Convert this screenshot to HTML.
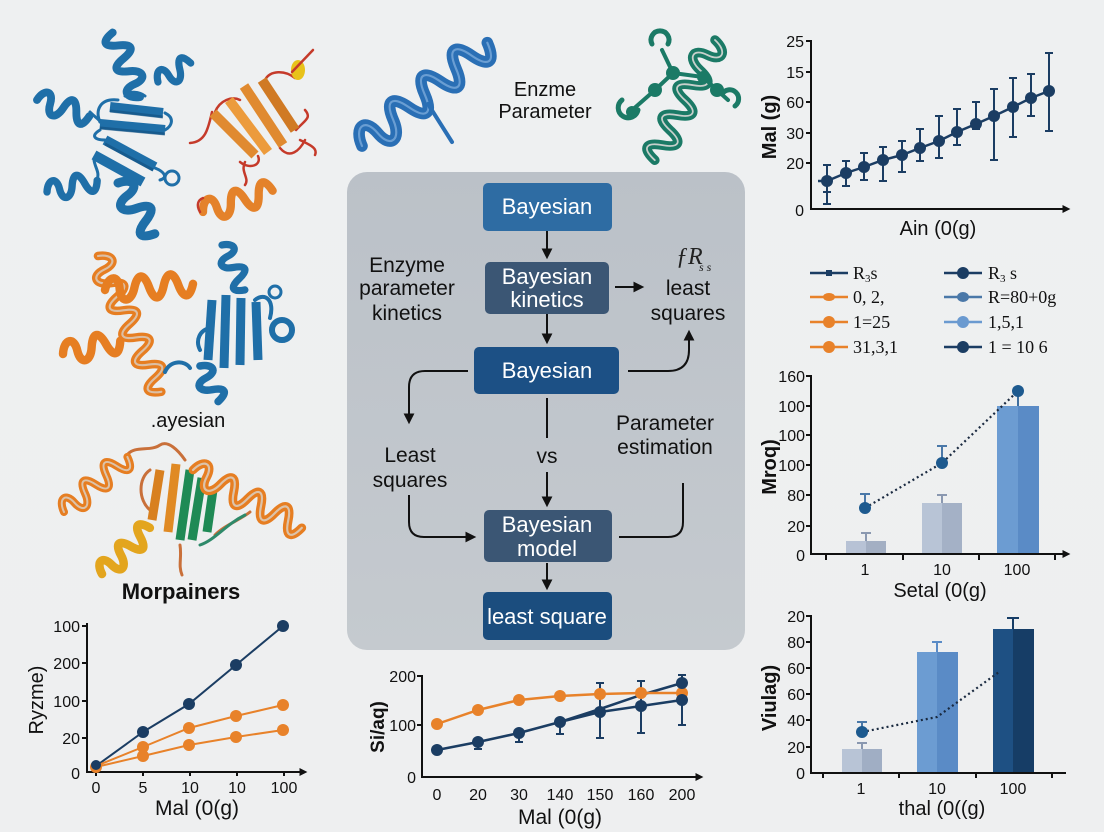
<!DOCTYPE html>
<html><head><meta charset="utf-8">
<style>
html,body{margin:0;padding:0;background:#eeeff0;}
svg{display:block;}
</style></head>
<body>
<svg width="1104" height="832" viewBox="0 0 1104 832" xmlns="http://www.w3.org/2000/svg" font-family="'Liberation Sans', sans-serif">
<defs>
  <linearGradient id="bg" x1="0" y1="0" x2="0" y2="1">
    <stop offset="0" stop-color="#eef0f1"/><stop offset="1" stop-color="#eeeff0"/>
  </linearGradient>
  <linearGradient id="panel" x1="0" y1="0" x2="0" y2="1">
    <stop offset="0" stop-color="#bbc1c8"/><stop offset="1" stop-color="#c5cacf"/>
  </linearGradient>
  <marker id="ah" viewBox="0 0 10 10" refX="7" refY="5" markerWidth="5.5" markerHeight="5.5" orient="auto">
    <path d="M0,0 L10,5 L0,10 z" fill="#111"/>
  </marker>
  <marker id="ahs" viewBox="0 0 10 10" refX="7" refY="5" markerWidth="4" markerHeight="4" orient="auto">
    <path d="M0,0 L10,5 L0,10 z" fill="#111"/>
  </marker>
  <path id="k3" fill="none" stroke-linecap="round" d="M0,0 c4,-14 14,-14 14,0 s10,14 14,0 s10,-14 14,0"/>
  <path id="k4" fill="none" stroke-linecap="round" d="M0,0 c4,-14 14,-14 14,0 s10,14 14,0 s10,-14 14,0 s10,14 14,0"/>
  <path id="k5" fill="none" stroke-linecap="round" d="M0,0 c4,-14 14,-14 14,0 s10,14 14,0 s10,-14 14,0 s10,14 14,0 s10,-14 14,0"/>
  <path id="k6" fill="none" stroke-linecap="round" d="M0,0 c4,-14 14,-14 14,0 s10,14 14,0 s10,-14 14,0 s10,14 14,0 s10,-14 14,0 s10,14 14,0"/>
  <path id="k8" fill="none" stroke-linecap="round" d="M0,0 c4,-14 14,-14 14,0 s10,14 14,0 s10,-14 14,0 s10,14 14,0 s10,-14 14,0 s10,14 14,0 s10,-14 14,0 s10,14 14,0"/>
  <path id="k10" fill="none" stroke-linecap="round" d="M0,0 c4,-14 14,-14 14,0 s10,14 14,0 s10,-14 14,0 s10,14 14,0 s10,-14 14,0 s10,14 14,0 s10,-14 14,0 s10,14 14,0 s10,-14 14,0 s10,14 14,0"/>
</defs>
<rect width="1104" height="832" fill="url(#bg)"/>

<!-- ============ PROTEIN 1 (blue, top-left) ============ -->
<g fill="none" stroke-linecap="round">
  <path d="M118,100 C100,98 95,110 100,122 M165,113 C175,118 172,126 165,130 M100,130 C90,136 95,140 105,140 M155,168 C165,172 168,178 160,180" stroke="#1f6fa8" stroke-width="3"/>
  <circle cx="172" cy="178" r="7" stroke="#1f6fa8" stroke-width="3"/>
  <path d="M125,96 C128,90 140,92 145,96 M90,112 C96,118 100,120 100,122 M97,180 C100,172 95,168 94,160" stroke="#1f6fa8" stroke-width="3"/>
  <g stroke="#1f6fa8" stroke-width="10" stroke-linecap="butt">
    <line x1="110" y1="107" x2="163" y2="113"/>
    <line x1="100" y1="124" x2="165" y2="130"/>
    <line x1="105" y1="140" x2="155" y2="167"/>
    <line x1="94" y1="155" x2="143" y2="182"/>
  </g>
  <g stroke="#134f7e" stroke-width="3" stroke-linecap="butt" opacity="0.6">
    <line x1="110" y1="111" x2="163" y2="117"/>
    <line x1="100" y1="128" x2="165" y2="134"/>
    <line x1="105" y1="144" x2="153" y2="170"/>
  </g>
  <use href="#k5" transform="translate(140,97) rotate(-113)" stroke="#1f6fa8" stroke-width="8"/>
  <use href="#k3" transform="translate(158,82) rotate(-30) scale(0.9)" stroke="#1f6fa8" stroke-width="8"/>
  <use href="#k4" transform="translate(37,100) rotate(17) scale(0.98)" stroke="#1f6fa8" stroke-width="8"/>
  <use href="#k4" transform="translate(47,192) rotate(-13) scale(0.92)" stroke="#1f6fa8" stroke-width="8"/>
  <use href="#k4" transform="translate(118,183) rotate(54) scale(1.12)" stroke="#1f6fa8" stroke-width="8"/>
</g>

<!-- ============ PROTEIN 2 (orange, top) ============ -->
<g fill="none" stroke-linecap="round">
  <path d="M190,143 C205,142 208,130 212,112 M215,112 C220,100 232,96 240,100 M258,156 C262,165 250,170 240,162 M280,148 C290,160 300,150 305,140 M296,130 C305,120 312,118 305,110 M265,80 C270,70 285,70 295,78 M245,162 C240,172 250,178 245,185 M300,140 C310,145 318,148 315,155" stroke="#c53a2a" stroke-width="2.5"/>
  <g stroke-width="10" stroke-linecap="butt">
    <line x1="213" y1="113" x2="255" y2="155" stroke="#e08a30"/>
    <line x1="229" y1="100" x2="268" y2="152" stroke="#ec9b3c"/>
    <line x1="244" y1="86" x2="283" y2="145" stroke="#e08a30"/>
    <line x1="262" y1="80" x2="295" y2="130" stroke="#d07a24"/>
  </g>
  <use href="#k5" transform="translate(203,212) rotate(-17) scale(1.04)" stroke="#e4822a" stroke-width="8"/>
  <path d="M200,212 C196,205 198,200 203,198" stroke="#c53a2a" stroke-width="2.5"/>
  <ellipse cx="298" cy="70" rx="7" ry="10" fill="#e8c21a" stroke="none"/>
  <line x1="292" y1="72" x2="313" y2="50" stroke="#c53a2a" stroke-width="2.5"/>
</g>

<!-- ============ PROTEIN 3 (orange + blue, middle-left) ============ -->
<g fill="none" stroke-linecap="round">
  <use href="#k10" transform="translate(98,256) rotate(65) scale(1.07)" stroke="#e67e22" stroke-width="8"/>
  <use href="#k10" transform="translate(98,256) rotate(65) scale(1.07)" stroke="#dcbfa4" stroke-width="2"/>
  <use href="#k4" transform="translate(63,354) rotate(-13) scale(1.05)" stroke="#e67e22" stroke-width="8"/>
  <use href="#k6" transform="translate(105,290) rotate(-4) scale(1.05)" stroke="#e67e22" stroke-width="8"/>
  <path d="M165,372 C170,360 185,360 190,368 M200,350 C195,340 200,330 210,328 M255,300 C265,292 275,300 270,318" stroke="#1f6fa8" stroke-width="4"/>
  <circle cx="282" cy="330" r="10" stroke="#1f6fa8" stroke-width="6"/>
  <circle cx="275" cy="292" r="6" stroke="#1f6fa8" stroke-width="3"/>
  <g stroke="#1f6fa8" stroke-width="9" stroke-linecap="butt">
    <line x1="212" y1="300" x2="208" y2="360"/>
    <line x1="226" y1="295" x2="224" y2="368"/>
    <line x1="241" y1="298" x2="240" y2="365"/>
    <line x1="256" y1="302" x2="258" y2="360"/>
  </g>
  <use href="#k4" transform="translate(222,245) rotate(63) scale(0.9)" stroke="#1f6fa8" stroke-width="8"/>
  <use href="#k3" transform="translate(200,366) rotate(63) scale(0.95)" stroke="#1f6fa8" stroke-width="8"/>
</g>
<text x="188" y="427" font-size="20" text-anchor="middle" fill="#111">.ayesian</text>

<!-- ============ PROTEIN 4 (orange/green, lower-left) ============ -->
<g fill="none" stroke-linecap="round">
  <path d="M127,455 C135,445 150,452 160,445 C168,440 178,450 185,460 M180,545 C182,558 178,565 182,575 M215,535 C225,525 240,520 250,512 M150,470 C138,478 138,500 150,510" stroke="#c9703a" stroke-width="3"/>
  <path d="M200,545 C215,540 225,525 245,515" stroke="#2e8a6a" stroke-width="3"/>
  <g stroke-width="9" stroke-linecap="butt">
    <line x1="160" y1="470" x2="152" y2="520" stroke="#d8801f"/>
    <line x1="176" y1="464" x2="168" y2="532" stroke="#e08a24"/>
    <line x1="190" y1="470" x2="180" y2="540" stroke="#1f8a55"/>
    <line x1="202" y1="478" x2="192" y2="540" stroke="#1f8a55"/>
    <line x1="213" y1="490" x2="207" y2="532" stroke="#1f8a55"/>
  </g>
  <use href="#k6" transform="translate(64,512) rotate(-41)" stroke="#e67e22" stroke-width="8"/>
  <use href="#k6" transform="translate(64,512) rotate(-41)" stroke="#dcc3aa" stroke-width="2"/>
  <use href="#k8" transform="translate(193,470) rotate(28) scale(1.1)" stroke="#e67e22" stroke-width="8"/>
  <use href="#k8" transform="translate(193,470) rotate(28) scale(1.1)" stroke="#dcc3aa" stroke-width="2"/>
  <use href="#k5" transform="translate(102,574) rotate(-44) scale(0.95)" stroke="#e3a51e" stroke-width="9"/>
</g>
<text x="181" y="599" font-size="22" font-weight="bold" text-anchor="middle" fill="#111">Morpainers</text>

<!-- ============ TOP-MIDDLE proteins ============ -->
<g fill="none" stroke-linecap="round">
  <use href="#k8" transform="translate(362,146) rotate(-39.5) scale(1.45)" stroke="#2a6fb5" stroke-width="8"/>
  <use href="#k8" transform="translate(362,146) rotate(-39.5) scale(1.45)" stroke="#6a9ed3" stroke-width="1.5"/>
  <line x1="428" y1="104" x2="452" y2="142" stroke="#2a6fb5" stroke-width="4"/>
</g>
<text x="545" y="96" font-size="20" text-anchor="middle" fill="#111">Enzme</text>
<text x="545" y="118" font-size="20" text-anchor="middle" fill="#111">Parameter</text>
<g fill="none" stroke-linecap="round">
  <use href="#k8" transform="translate(715,40) rotate(116.6) scale(1.2)" stroke="#1b7a66" stroke-width="8"/>
  <use href="#k8" transform="translate(715,40) rotate(116.6) scale(1.2)" stroke="#c8d0cc" stroke-width="1.5"/>
  <path d="M630,112 L655,90 L673,73 L703,77 L717,90 L728,100" stroke="#1b7a66" stroke-width="4"/>
  <line x1="673" y1="73" x2="662" y2="50" stroke="#1b7a66" stroke-width="4"/>
  <path d="M622,100 A10,10 0 1,0 638,110" stroke="#1b7a66" stroke-width="5"/>
  <path d="M652,44 A9,9 0 1,1 668,44" stroke="#1b7a66" stroke-width="5"/>
  <path d="M722,94 A9,9 0 1,1 735,106" stroke="#1b7a66" stroke-width="5"/>
</g>
<g fill="#1b7a66">
  <circle cx="673" cy="73" r="7"/><circle cx="655" cy="90" r="7"/><circle cx="703" cy="77" r="6"/><circle cx="717" cy="90" r="7"/><circle cx="632" cy="112" r="6"/>
</g>

<!-- ============ FLOWCHART PANEL ============ -->
<rect x="347" y="172" width="398" height="478" rx="20" fill="url(#panel)"/>
<g font-size="22" fill="#fff" text-anchor="middle">
  <rect x="483" y="183" width="129" height="48" rx="5" fill="#2e6ca3"/>
  <text x="547" y="214">Bayesian</text>
  <rect x="485" y="262" width="124" height="52" rx="5" fill="#3b5674"/>
  <text x="547" y="284">Bayesian</text>
  <text x="547" y="307">kinetics</text>
  <rect x="474" y="347" width="145" height="47" rx="5" fill="#1c5085"/>
  <text x="547" y="378">Bayesian</text>
  <rect x="484" y="510" width="128" height="52" rx="5" fill="#3b5674"/>
  <text x="547" y="532">Bayesian</text>
  <text x="547" y="556">model</text>
  <rect x="483" y="592" width="129" height="48" rx="5" fill="#1b4d7e"/>
  <text x="547" y="624">least square</text>
</g>
<g font-size="21" fill="#111" text-anchor="middle">
  <text x="407" y="272">Enzyme</text>
  <text x="407" y="295">parameter</text>
  <text x="407" y="320">kinetics</text>
  <text x="688" y="295">least</text>
  <text x="688" y="320">squares</text>
  <text x="410" y="462">Least</text>
  <text x="410" y="487">squares</text>
  <text x="547" y="463">vs</text>
  <text x="665" y="430">Parameter</text>
  <text x="665" y="454">estimation</text>
</g>
<text x="676" y="264" font-family="'Liberation Serif', serif" font-style="italic" font-size="24" fill="#222">ƒR</text>
<text x="699" y="271" font-family="'Liberation Serif', serif" font-style="italic" font-size="12" fill="#222">s s</text>
<g stroke="#111" stroke-width="2" fill="none">
  <line x1="547" y1="231" x2="547" y2="256" marker-end="url(#ah)"/>
  <line x1="547" y1="314" x2="547" y2="341" marker-end="url(#ah)"/>
  <line x1="615" y1="287" x2="641" y2="287" marker-end="url(#ah)"/>
  <path d="M628,371 L668,371 Q689,371 689,350 L689,333" marker-end="url(#ah)"/>
  <path d="M468,371 L425,371 Q409,371 409,387 L409,421" marker-end="url(#ah)"/>
  <path d="M409,495 L409,522 Q409,537 424,537 L473,537" marker-end="url(#ah)"/>
  <line x1="547" y1="398" x2="547" y2="438"/>
  <line x1="547" y1="472" x2="547" y2="504" marker-end="url(#ah)"/>
  <path d="M683,483 L683,522 Q683,537 668,537 L619,537"/>
  <line x1="547" y1="563" x2="547" y2="587" marker-end="url(#ah)"/>
</g>

<!-- ============ TOP-RIGHT LINE CHART ============ -->
<g stroke="#111" stroke-width="2" fill="none">
  <line x1="811" y1="40" x2="811" y2="210"/>
  <line x1="810" y1="209" x2="1068" y2="209" marker-end="url(#ahs)"/>
  <line x1="806" y1="41" x2="811" y2="41"/>
  <line x1="806" y1="72" x2="811" y2="72"/>
  <line x1="806" y1="102" x2="811" y2="102"/>
  <line x1="806" y1="133" x2="811" y2="133"/>
  <line x1="806" y1="163" x2="811" y2="163"/>
</g>
<g font-size="16" fill="#111" text-anchor="end">
  <text x="804" y="47">25</text>
  <text x="804" y="78">15</text>
  <text x="804" y="108">60</text>
  <text x="804" y="139">30</text>
  <text x="804" y="169">20</text>
  <text x="804" y="216">0</text>
</g>
<text transform="translate(776,127) rotate(-90)" font-size="20" font-weight="bold" text-anchor="middle" fill="#111">Mal (g)</text>
<text x="938" y="235" font-size="20" text-anchor="middle" fill="#111">Ain (0(g)</text>
<g stroke="#1b3d63" stroke-width="2" fill="none">
  <polyline points="818,181 827,181 846,173 864,167 883,160 902,155 920,148 939,141 957,132 976,124 994,116 1013,107 1031,98 1049,91" stroke-width="2.5"/>
  <path d="M827,165V204 M823,165H831 M823,192H831 M823,204H831
           M846,161V186 M842,161H850 M842,186H850
           M864,153V180 M860,153H868 M860,180H868
           M883,147V181 M879,147H887 M879,181H887
           M902,141V172 M898,141H906 M898,172H906
           M920,129V161 M916,129H924 M916,161H924
           M939,116V158 M935,116H943 M935,158H943
           M957,109V145 M953,109H961 M953,145H961
           M976,102V129 M972,102H980 M972,129H980
           M994,89V160 M990,89H998 M990,160H998
           M1013,78V137 M1009,78H1017 M1009,137H1017
           M1031,74V116 M1027,74H1035 M1027,116H1035
           M1049,53V131 M1045,53H1053 M1045,131H1053"/>
</g>
<g fill="#1b3d63">
  <circle cx="827" cy="181" r="6"/><circle cx="846" cy="173" r="6"/><circle cx="864" cy="167" r="6"/><circle cx="883" cy="160" r="6"/><circle cx="902" cy="155" r="6"/><circle cx="920" cy="148" r="6"/><circle cx="939" cy="141" r="6"/><circle cx="957" cy="132" r="6"/><circle cx="976" cy="124" r="6"/><circle cx="994" cy="116" r="6"/><circle cx="1013" cy="107" r="6"/><circle cx="1031" cy="98" r="6"/><circle cx="1049" cy="91" r="6"/>
</g>

<!-- ============ LEGEND ============ -->
<g stroke-width="2.5">
  <line x1="810" y1="273" x2="848" y2="273" stroke="#1b3d63"/><rect x="826" y="270" width="6" height="6" fill="#1b3d63"/>
  <line x1="810" y1="297" x2="848" y2="297" stroke="#e8822a"/><ellipse cx="829" cy="297" rx="6" ry="4" fill="#e8822a"/>
  <line x1="810" y1="322" x2="848" y2="322" stroke="#e8822a"/><circle cx="829" cy="322" r="6" fill="#e8822a"/>
  <line x1="810" y1="347" x2="848" y2="347" stroke="#e8822a"/><circle cx="829" cy="347" r="6" fill="#e8822a"/>
  <line x1="944" y1="273" x2="982" y2="273" stroke="#1b3d63"/><circle cx="963" cy="273" r="6" fill="#1b3d63"/>
  <line x1="944" y1="297" x2="982" y2="297" stroke="#4a78a8"/><ellipse cx="963" cy="297" rx="6" ry="5" fill="#4a78a8"/>
  <line x1="944" y1="322" x2="982" y2="322" stroke="#6a9ad0"/><circle cx="963" cy="322" r="6" fill="#6a9ad0"/>
  <line x1="944" y1="347" x2="982" y2="347" stroke="#1b3d63"/><circle cx="963" cy="347" r="6" fill="#1b3d63"/>
</g>
<g font-family="'Liberation Serif', serif" font-size="18" fill="#111">
  <text x="853" y="279">R<tspan font-size="11" dy="3">3</tspan><tspan dy="-3">s</tspan></text>
  <text x="853" y="303">0, 2,</text>
  <text x="853" y="328">1=25</text>
  <text x="853" y="353">31,3,1</text>
  <text x="988" y="279">R<tspan font-size="11" dy="3">3</tspan><tspan dy="-3"> s</tspan></text>
  <text x="988" y="303">R=80+0g</text>
  <text x="988" y="328">1,5,1</text>
  <text x="988" y="353">1 = 10 6</text>
</g>

<!-- ============ MIDDLE-RIGHT BAR CHART ============ -->
<rect x="846" y="541" width="20" height="13" fill="#b7c2d5"/><rect x="866" y="541" width="20" height="13" fill="#a3afc3"/>
<rect x="922" y="503" width="20" height="51" fill="#b8c4d6"/><rect x="942" y="503" width="20" height="51" fill="#a4b1c6"/>
<rect x="997" y="406" width="21" height="148" fill="#6c9cd2"/><rect x="1018" y="406" width="21" height="148" fill="#5a8bc6"/>
<g stroke="#8a98b0" stroke-width="2">
  <path d="M866,541V533 M861,533H871 M942,503V495 M937,495H947"/>
</g>
<path d="M1018,406V396" stroke="#3f6f9f" stroke-width="2"/>
<g stroke="#111" stroke-width="2" fill="none">
  <line x1="811" y1="375" x2="811" y2="555"/>
  <line x1="810" y1="554" x2="1068" y2="554" marker-end="url(#ahs)"/>
  <path d="M826,554V560 M903,554V560 M979,554V560 M1055,554V560"/>
  <path d="M806,376H811 M806,406H811 M806,435H811 M806,465H811 M806,495H811 M806,526H811"/>
</g>
<g font-size="16" fill="#111" text-anchor="end">
  <text x="805" y="382">160</text>
  <text x="805" y="412">100</text>
  <text x="805" y="441">100</text>
  <text x="805" y="471">100</text>
  <text x="805" y="501">80</text>
  <text x="805" y="532">20</text>
  <text x="805" y="561">0</text>
</g>
<g font-size="16" fill="#111" text-anchor="middle">
  <text x="865" y="575">1</text>
  <text x="942" y="575">10</text>
  <text x="1017" y="575">100</text>
</g>
<text x="940" y="597" font-size="20" text-anchor="middle" fill="#111">Setal (0(g)</text>
<text transform="translate(776,467) rotate(-90)" font-size="20" font-weight="bold" text-anchor="middle" fill="#111">Mroq)</text>
<polyline points="865,508 942,463 1018,391" fill="none" stroke="#1a2a40" stroke-width="2.2" stroke-dasharray="2,3"/>
<g stroke="#4a78a8" stroke-width="2"><path d="M865,508V494 M860,494H870 M942,463V446 M937,446H947"/></g>
<g fill="#1d5a8f"><circle cx="865" cy="508" r="6"/><circle cx="942" cy="463" r="6"/><circle cx="1018" cy="391" r="6"/></g>

<!-- ============ BOTTOM-RIGHT BAR CHART ============ -->
<rect x="842" y="749" width="20" height="24" fill="#b8c4d6"/><rect x="862" y="749" width="20" height="24" fill="#a0aec4"/>
<rect x="917" y="652" width="20" height="121" fill="#6c9cd2"/><rect x="937" y="652" width="21" height="121" fill="#5a8bc6"/>
<rect x="993" y="629" width="20" height="144" fill="#1e5083"/><rect x="1013" y="629" width="21" height="144" fill="#163d66"/>
<g stroke-width="2">
  <path d="M862,749V743 M857,743H867" stroke="#8a98b0"/>
  <path d="M937,652V642 M932,642H942" stroke="#5a8bc6"/>
  <path d="M1013,629V618 M1007,618H1019" stroke="#163d66"/>
</g>
<g stroke="#111" stroke-width="2" fill="none">
  <line x1="811" y1="615" x2="811" y2="774"/>
  <line x1="810" y1="773" x2="1066" y2="773"/>
  <path d="M823,773V778 M899,773V778 M976,773V778 M1052,773V778"/>
  <path d="M806,616H811 M806,642H811 M806,668H811 M806,694H811 M806,720H811 M806,747H811"/>
</g>
<g font-size="16" fill="#111" text-anchor="end">
  <text x="805" y="622">20</text>
  <text x="805" y="648">80</text>
  <text x="805" y="674">60</text>
  <text x="805" y="700">60</text>
  <text x="805" y="726">40</text>
  <text x="805" y="753">20</text>
  <text x="805" y="779">0</text>
</g>
<g font-size="16" fill="#111" text-anchor="middle">
  <text x="861" y="794">1</text>
  <text x="937" y="794">10</text>
  <text x="1013" y="794">100</text>
</g>
<text x="942" y="815" font-size="20" text-anchor="middle" fill="#111">thal (0((g)</text>
<text transform="translate(776,698) rotate(-90)" font-size="20" font-weight="bold" text-anchor="middle" fill="#111">Viulag)</text>
<polyline points="862,732 937,717 999,672" fill="none" stroke="#1a2a40" stroke-width="2.2" stroke-dasharray="2,3"/>
<path d="M862,732V722 M857,722H867" stroke="#4a78a8" stroke-width="2"/>
<circle cx="862" cy="732" r="6" fill="#1d5a8f"/>

<!-- ============ BOTTOM-LEFT LINE CHART ============ -->
<g stroke="#111" stroke-width="2" fill="none">
  <line x1="87" y1="623" x2="87" y2="773"/>
  <line x1="86" y1="772" x2="305" y2="772" marker-end="url(#ahs)"/>
  <path d="M82,626H87 M82,663H87 M82,701H87 M82,738H87"/>
  <path d="M96,772V776 M143,772V776 M190,772V776 M237,772V776 M284,772V776"/>
</g>
<g font-size="16" fill="#111" text-anchor="end">
  <text x="80" y="632">100</text>
  <text x="80" y="669">200</text>
  <text x="80" y="707">100</text>
  <text x="80" y="744">20</text>
  <text x="80" y="779">0</text>
</g>
<g font-size="16" fill="#111" text-anchor="middle">
  <text x="96" y="793">0</text>
  <text x="143" y="793">5</text>
  <text x="190" y="793">10</text>
  <text x="237" y="793">10</text>
  <text x="284" y="793">100</text>
</g>
<text x="197" y="815" font-size="21" text-anchor="middle" fill="#111">Mal (0(g)</text>
<text transform="translate(43,700) rotate(-90)" font-size="20" text-anchor="middle" fill="#111">Ryzme)</text>
<g fill="none" stroke-width="2">
  <polyline points="96,766 143,732 189,704 236,665 283,626" stroke="#1b3d63"/>
  <polyline points="96,766 143,747 189,728 236,716 283,705" stroke="#e8822a"/>
  <polyline points="96,767 143,756 189,745 236,737 283,730" stroke="#e8822a"/>
</g>
<g fill="#e8822a">
  <circle cx="96" cy="767" r="6"/><circle cx="143" cy="747" r="6"/><circle cx="189" cy="728" r="6"/><circle cx="236" cy="716" r="6"/><circle cx="283" cy="705" r="6"/>
  <circle cx="143" cy="756" r="6"/><circle cx="189" cy="745" r="6"/><circle cx="236" cy="737" r="6"/><circle cx="283" cy="730" r="6"/>
</g>
<g fill="#1b3d63">
  <circle cx="96" cy="765" r="5"/><circle cx="143" cy="732" r="6"/><circle cx="189" cy="704" r="6"/><circle cx="236" cy="665" r="6"/><circle cx="283" cy="626" r="6"/>
</g>

<!-- ============ BOTTOM-MIDDLE LINE CHART ============ -->
<g stroke="#111" stroke-width="2" fill="none">
  <line x1="422" y1="675" x2="422" y2="778"/>
  <line x1="421" y1="777" x2="701" y2="777" marker-end="url(#ahs)"/>
  <path d="M417,676H422 M417,725H422"/>
</g>
<g font-size="16" fill="#111" text-anchor="end">
  <text x="416" y="682">200</text>
  <text x="416" y="731">100</text>
  <text x="416" y="783">0</text>
</g>
<g font-size="16" fill="#111" text-anchor="middle">
  <text x="437" y="800">0</text>
  <text x="478" y="800">20</text>
  <text x="519" y="800">30</text>
  <text x="560" y="800">140</text>
  <text x="600" y="800">150</text>
  <text x="641" y="800">160</text>
  <text x="682" y="800">200</text>
</g>
<text x="560" y="824" font-size="21" text-anchor="middle" fill="#111">Mal (0(g)</text>
<text transform="translate(384,727) rotate(-90)" font-size="19" font-weight="bold" text-anchor="middle" fill="#111">Si/aq)</text>
<g fill="none" stroke="#1b3d63" stroke-width="2">
  <path d="M478,742V749 M474,749H482 M519,733V742 M515,742H523 M560,722V734 M556,734H564 M600,683V738 M596,683H604 M596,738H604 M641,681V733 M637,681H645 M637,733H645 M682,675V725 M678,675H686 M678,725H686"/>
  <polyline points="437,750 478,742 519,733 560,722 600,712 641,706 682,700" stroke-width="2.5"/>
  <polyline points="560,722 600,709 641,695 682,683" stroke-width="2.5"/>
</g>
<polyline points="437,724 478,710 519,700 560,696 600,694 641,693 682,693" fill="none" stroke="#e8822a" stroke-width="2.5"/>
<g fill="#e8822a">
  <circle cx="437" cy="724" r="6"/><circle cx="478" cy="710" r="6"/><circle cx="519" cy="700" r="6"/><circle cx="560" cy="696" r="6"/><circle cx="600" cy="694" r="6"/><circle cx="641" cy="693" r="6"/><circle cx="682" cy="693" r="6"/>
</g>
<g fill="#1b3d63">
  <circle cx="437" cy="750" r="6"/><circle cx="478" cy="742" r="6"/><circle cx="519" cy="733" r="6"/><circle cx="560" cy="722" r="6"/><circle cx="600" cy="712" r="6"/><circle cx="641" cy="706" r="6"/><circle cx="682" cy="700" r="6"/><circle cx="682" cy="683" r="6"/>
</g>
</svg>
</body></html>
